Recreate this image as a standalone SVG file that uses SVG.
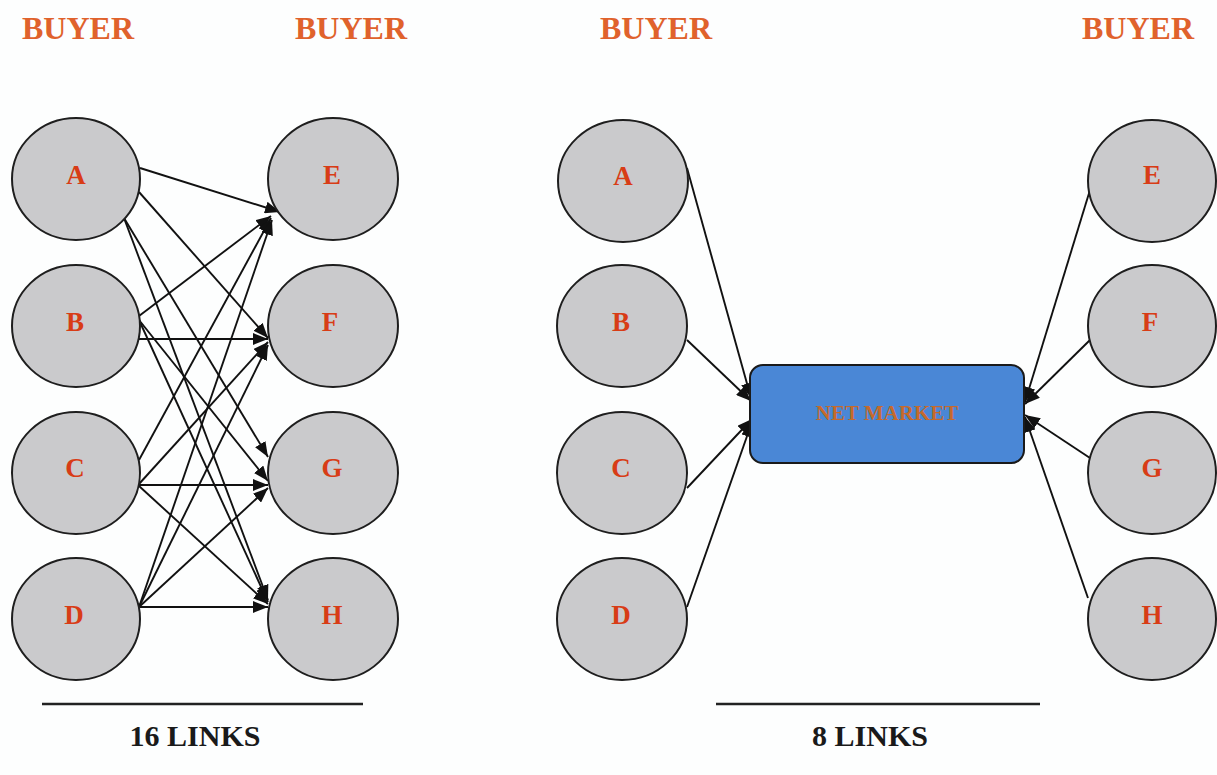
<svg xmlns="http://www.w3.org/2000/svg" width="1217" height="775" viewBox="0 0 1217 775">
  <style>
    .bg { fill: #fdfefe; }
    .node { fill: #cacacc; stroke: #1e1e1e; stroke-width: 2; }
    .letter { font-family: "Liberation Serif", "Times New Roman", serif; font-weight: bold; font-size: 27px; fill: #d83c16; text-anchor: middle; }
    .head { font-family: "Liberation Serif", "Times New Roman", serif; font-weight: bold; font-size: 32px; fill: #e0622c; text-anchor: middle; }
    .count { font-family: "Liberation Serif", "Times New Roman", serif; font-weight: bold; font-size: 30px; fill: #1a1a1a; text-anchor: middle; }
    .market { fill: #4a87d6; stroke: #1a1a1a; stroke-width: 2; }
    .market-label { font-family: "Liberation Serif", "Times New Roman", serif; font-weight: bold; font-size: 21px; fill: #c56a2c; text-anchor: middle; }
    .link { stroke: #111; stroke-width: 1.9; fill: none; marker-end: url(#arrow); }
    .rule { stroke: #222; stroke-width: 2.5; }
  </style>
  <defs>
    <marker id="arrow" markerUnits="userSpaceOnUse" viewBox="0 0 15 12" refX="15" refY="6" markerWidth="15" markerHeight="12" orient="auto">
      <path d="M0,0 L15,6 L0,12 Z" fill="#111"/>
    </marker>
  </defs>

  <rect class="bg" x="0" y="0" width="1217" height="775"/>

  <!-- column headings -->
  <g id="headings">
    <text class="head" x="78" y="39">BUYER</text>
    <text class="head" x="351" y="39">BUYER</text>
    <text class="head" x="656" y="39">BUYER</text>
    <text class="head" x="1138" y="39">BUYER</text>
  </g>

  <!-- connectors -->
  <g id="connectors">
    <!-- direct mesh: every buyer on the left to every buyer on the right -->
    <line class="link" x1="140" y1="168" x2="280" y2="212"/>
    <line class="link" x1="139" y1="192" x2="268" y2="338"/>
    <line class="link" x1="124" y1="218" x2="268" y2="457"/>
    <line class="link" x1="124" y1="218" x2="268" y2="600"/>

    <line class="link" x1="139" y1="316" x2="271" y2="216"/>
    <line class="link" x1="139" y1="339" x2="268" y2="339"/>
    <line class="link" x1="139" y1="320" x2="268" y2="481"/>
    <line class="link" x1="139" y1="320" x2="268" y2="602"/>

    <line class="link" x1="139" y1="460" x2="271" y2="218"/>
    <line class="link" x1="139" y1="484" x2="268" y2="342"/>
    <line class="link" x1="139" y1="485" x2="268" y2="485"/>
    <line class="link" x1="139" y1="486" x2="268" y2="604"/>

    <line class="link" x1="139" y1="607" x2="272" y2="220"/>
    <line class="link" x1="139" y1="607" x2="268" y2="345"/>
    <line class="link" x1="139" y1="607" x2="268" y2="488"/>
    <line class="link" x1="139" y1="607" x2="268" y2="607"/>

    <!-- hub: every buyer to the net market -->
    <line class="link" x1="687" y1="168" x2="751" y2="398"/>
    <line class="link" x1="687" y1="340" x2="751" y2="401"/>
    <line class="link" x1="687" y1="488" x2="752" y2="419"/>
    <line class="link" x1="687" y1="607" x2="752" y2="422"/>

    <line class="link" x1="1090" y1="190" x2="1025" y2="402"/>
    <line class="link" x1="1090" y1="340" x2="1025" y2="404"/>
    <line class="link" x1="1090" y1="458" x2="1025" y2="415"/>
    <line class="link" x1="1088" y1="598" x2="1025" y2="417"/>
  </g>

  <!-- left network -->
  <g id="L-A"><ellipse class="node" cx="76" cy="179" rx="64" ry="61"/><text class="letter" x="76" y="184">A</text></g>
  <g id="L-B"><ellipse class="node" cx="76" cy="326" rx="64" ry="61"/><text class="letter" x="75" y="331">B</text></g>
  <g id="L-C"><ellipse class="node" cx="76" cy="473" rx="64" ry="61"/><text class="letter" x="75" y="477">C</text></g>
  <g id="L-D"><ellipse class="node" cx="76" cy="619" rx="64" ry="61"/><text class="letter" x="74" y="624">D</text></g>
  <g id="L-E"><ellipse class="node" cx="333" cy="179" rx="65" ry="61"/><text class="letter" x="332" y="184">E</text></g>
  <g id="L-F"><ellipse class="node" cx="333" cy="326" rx="65" ry="61"/><text class="letter" x="330" y="331">F</text></g>
  <g id="L-G"><ellipse class="node" cx="333" cy="473" rx="65" ry="61"/><text class="letter" x="332" y="477">G</text></g>
  <g id="L-H"><ellipse class="node" cx="333" cy="619" rx="65" ry="61"/><text class="letter" x="332" y="624">H</text></g>

  <!-- right network -->
  <g id="R-A"><ellipse class="node" cx="623" cy="181" rx="65" ry="61"/><text class="letter" x="623" y="185">A</text></g>
  <g id="R-B"><ellipse class="node" cx="622" cy="326" rx="65" ry="61"/><text class="letter" x="621" y="331">B</text></g>
  <g id="R-C"><ellipse class="node" cx="622" cy="473" rx="65" ry="61"/><text class="letter" x="621" y="477">C</text></g>
  <g id="R-D"><ellipse class="node" cx="622" cy="619" rx="65" ry="61"/><text class="letter" x="621" y="624">D</text></g>
  <g id="R-E"><ellipse class="node" cx="1152" cy="181" rx="64" ry="61"/><text class="letter" x="1152" y="184">E</text></g>
  <g id="R-F"><ellipse class="node" cx="1152" cy="326" rx="64" ry="61"/><text class="letter" x="1150" y="331">F</text></g>
  <g id="R-G"><ellipse class="node" cx="1152" cy="473" rx="64" ry="61"/><text class="letter" x="1152" y="477">G</text></g>
  <g id="R-H"><ellipse class="node" cx="1152" cy="619" rx="64" ry="61"/><text class="letter" x="1152" y="624">H</text></g>

  <g id="net-market">
    <rect class="market" x="750" y="365" width="274" height="98" rx="13"/>
    <text class="market-label" x="887" y="420">NET MARKET</text>
  </g>

  <!-- totals -->
  <g id="totals">
    <line class="rule" x1="42" y1="704" x2="363" y2="704"/>
    <text class="count" x="195" y="746">16 LINKS</text>
    <line class="rule" x1="716" y1="704" x2="1040" y2="704"/>
    <text class="count" x="870" y="746">8 LINKS</text>
  </g>
</svg>
